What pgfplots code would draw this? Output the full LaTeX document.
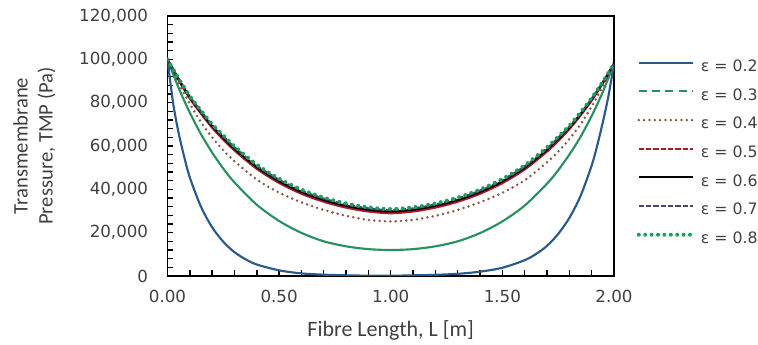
\documentclass[border=0pt]{standalone}
\usepackage{fontspec}
\usepackage{pgfplots}
\pgfplotsset{compat=1.18}
\usepackage{pgfplotstable}
\setmainfont{DejaVu Sans}
\newfontfamily\dejavu{DejaVu Sans}
\newfontfamily\carlito{Carlito}
\definecolor{c2}{RGB}{40,90,140}
\definecolor{c3}{RGB}{40,145,95}
\definecolor{c4}{RGB}{140,90,75}
\definecolor{c5}{RGB}{170,30,35}
\definecolor{c6}{RGB}{0,0,0}
\definecolor{c7}{RGB}{70,70,110}
\definecolor{c8}{RGB}{30,160,90}
\definecolor{txt}{RGB}{64,64,64}

\pgfplotstableread{
L e2
0 100000
0.025 80000
0.05 66000
0.075 55000
0.1 45500
0.15 32000
0.2 22500
0.25 15800
0.3 11000
0.35 7700
0.4 5300
0.5 2600
0.6 1200
0.7 600
0.8 300
0.9 150
1.0 120
1.1 300
1.2 550
1.3 1000
1.4 2000
1.5 3800
1.6 7300
1.65 10100
1.7 13900
1.75 19400
1.8 26800
1.85 36900
1.9 51000
1.925 60300
1.95 71000
1.975 83000
2.0 98000
}\tblA

\pgfplotstableread{
L e3 e4 e5 e6 e7 e8
0 100000 100000 100000 100000 100000 100000
0.05 86800 89000 90500 90800 91000 91200
0.1 75400 79500 82000 82500 82800 83100
0.15 65500 71000 75000 75600 76000 76400
0.2 57000 64000 68500 69200 69700 70100
0.25 49600 58000 63000 63800 64400 64900
0.3 43200 53000 58000 58800 59400 59900
0.4 32900 44500 49500 50300 50900 51400
0.5 25400 38500 43000 43800 44400 44900
0.6 19900 34000 38000 38800 39400 39900
0.7 16000 30500 34300 35100 35700 36200
0.8 13700 27800 31600 32400 33000 33500
0.9 12400 25900 29800 30600 31200 31700
1.0 12000 25200 29000 29800 30400 30900
1.1 12400 25900 29800 30600 31200 31700
1.2 13700 27800 31600 32400 33000 33500
1.3 16000 30500 34300 35100 35700 36200
1.4 19800 34000 38000 38800 39400 39900
1.5 25200 38400 42900 43700 44300 44800
1.6 32500 44200 49200 50000 50600 51100
1.7 42600 52500 57500 58300 58900 59400
1.75 48800 57400 62400 63200 63800 64300
1.8 56000 63200 67800 68500 69000 69400
1.85 64200 70000 74100 74700 75100 75500
1.9 73900 78200 81000 81500 81800 82200
1.95 85000 87500 89000 89300 89500 89700
2.0 98000 98000 98000 98000 98000 98000
}\tblB

\begin{document}
\begin{tikzpicture}
\useasboundingbox (-125.6pt,-51.75pt) rectangle (442.9pt,207pt);
\begin{axis}[
  at={(0,0)}, anchor=south west,
  scale only axis, width=334.9pt, height=195pt,
  xmin=0, xmax=2, ymin=0, ymax=120000,
  xtick={0,0.5,1,1.5,2},
  ytick={0,20000,40000,60000,80000,100000,120000},
  minor x tick num=4, minor y tick num=4,
  tick align=inside, xtick pos=bottom, ytick pos=left,
  major tick length=4.5pt, minor tick length=4.5pt,
  tick style={draw=black, line width=1.1pt},
  axis line style={black, line width=1.4pt},
  scaled y ticks=false,
  /pgf/number format/assume math mode=true,
  tick label style={font=\dejavu\fontsize{12.5}{14}\selectfont, text=txt},
  x tick label style={yshift=-7pt, /pgf/number format/.cd, fixed, fixed zerofill, precision=2},
  y tick label style={xshift=-11pt, /pgf/number format/.cd, fixed, 1000 sep={,}},
  xlabel={Fibre Length, L [m]},
  xlabel style={at={(axis description cs:0.5,-0.2077)}, anchor=center, font=\carlito\fontsize{16.5}{19}\selectfont, text=txt},
  ylabel={Transmembrane\\Pressure, TMP (Pa)},
  ylabel style={at={(axis description cs:-0.298,0.5)}, anchor=center, align=center, font=\carlito\fontsize{15.5}{18.75}\selectfont, text=txt},
  legend style={at={(1.0505,0.829)}, anchor=north west, draw=none, fill=none, inner sep=0pt,
    row sep=11.5pt,
    nodes={inner sep=0pt, text height=8pt, text depth=2pt, font=\dejavu\fontsize{11.8}{13}\selectfont, text=txt}},
  legend cell align=left,
  /tikz/every odd column/.append style={column sep=4pt},
  legend image code/.code={\draw[#1] (0pt,3.5pt) -- (41pt,3.5pt);},
]
\addplot[c2, line width=1.6pt, smooth] table[x=L, y=e2] {\tblA};
\addlegendentry{ε = 0.2}
\addplot[c3, line width=1.6pt, smooth,
  legend image code/.code={\draw[c3, line width=1.6pt, dash pattern=on 6pt off 4pt] (0pt,3.5pt) -- (41pt,3.5pt);}] table[x=L, y=e3] {\tblB};
\addlegendentry{ε = 0.3}
\addplot[c4, line width=2.1pt, line cap=round, dash pattern=on 0pt off 4pt, smooth] table[x=L, y=e4] {\tblB};
\addlegendentry{ε = 0.4}
\addplot[c5, line width=1.7pt, smooth,
  legend image code/.code={\draw[c5, line width=1.7pt, dash pattern=on 4pt off 1.5pt] (0pt,3.5pt) -- (41pt,3.5pt);}] table[x=L, y=e5] {\tblB};
\addlegendentry{ε = 0.5}
\addplot[c6, line width=1.6pt, smooth] table[x=L, y=e6] {\tblB};
\addlegendentry{ε = 0.6}
\addplot[c7, line width=1.6pt, dash pattern=on 4pt off 1.5pt, smooth] table[x=L, y=e7] {\tblB};
\addlegendentry{ε = 0.7}
\addplot[c8, line width=3pt, line cap=round, dash pattern=on 0pt off 4.8pt, smooth] table[x=L, y=e8] {\tblB};
\addlegendentry{ε = 0.8}
\end{axis}
\end{tikzpicture}
\end{document}
